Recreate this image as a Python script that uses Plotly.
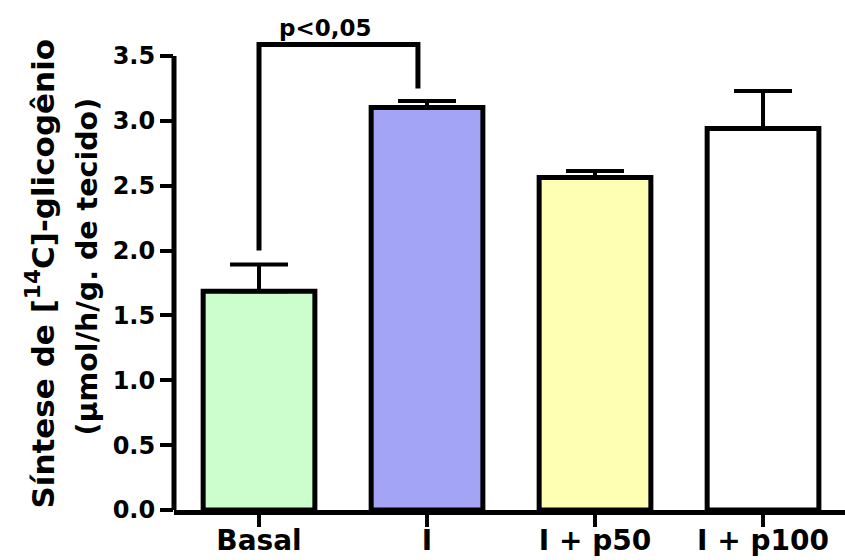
import plotly.graph_objects as go

categories = ["Basal", "I", "I + p50", "I + p100"]
means = [1.687, 3.104, 2.563, 2.942]
errors = [0.206, 0.050, 0.051, 0.288]
bracket_x = [0, 0, 0.946, 0.946]
bracket_y = [2.0, 3.59, 3.59, 3.25]
sig_label = "p<0,05"
y_ticks = [0.0, 0.5, 1.0, 1.5, 2.0, 2.5, 3.0, 3.5]

xpos = list(range(len(categories)))
fill_colors = ["#ccfdcc", "#a4a4f6", "#ffffb4", "#ffffff"]

TF = "DejaVu Sans"

fig = go.Figure()
fig.add_trace(go.Bar(
    x=xpos, y=means, width=0.665,
    marker=dict(color=fill_colors, line=dict(color="black", width=5)),
    error_y=dict(type="data", symmetric=False, array=errors,
                 arrayminus=[0] * len(errors), color="black", thickness=4, width=29),
    hoverinfo="skip", showlegend=False,
))
fig.add_trace(go.Scatter(
    x=bracket_x, y=bracket_y, mode="lines",
    line=dict(color="black", width=5), hoverinfo="skip", showlegend=False,
))

fig.add_shape(type="line", xref="paper", x0=0, x1=0, yref="y", y0=0, y1=3.5,
              line=dict(color="black", width=5), layer="above")

fig.add_annotation(x=0.39, y=3.59, xref="x", yref="y", text="<b>" + sig_label + "</b>",
                   showarrow=False, yanchor="bottom", yshift=1,
                   font=dict(family=TF, size=23, color="black"))

fig.add_annotation(x=0, xref="paper", xshift=-134, y=0.50, yref="paper",
                   text="<b>Síntese de [<sup>14</sup>C]-glicogênio</b>",
                   textangle=-90, showarrow=False, xanchor="center", yanchor="middle",
                   font=dict(family=TF, size=31, color="black"))
fig.add_annotation(x=0, xref="paper", xshift=-87, y=0.515, yref="paper",
                   text="<b>(µmol/h/g. de tecido)</b>",
                   textangle=-90, showarrow=False, xanchor="center", yanchor="middle",
                   font=dict(family=TF, size=28.5, color="black"))

fig.update_layout(
    width=845, height=560,
    margin=dict(l=174, r=0, t=37, b=50),
    paper_bgcolor="white", plot_bgcolor="white",
)
fig.update_xaxes(
    range=[-0.506, 3.488], tickvals=xpos, ticktext=["<b>%s</b>" % c for c in categories],
    showline=True, linewidth=5, linecolor="black", automargin=False,
    ticks="outside", ticklen=12, tickwidth=4, tickcolor="black",
    ticklabelstandoff=-11,
    showgrid=False, zeroline=False,
    tickfont=dict(family=TF, size=28, color="black"),
)
fig.update_yaxes(
    range=[0, 3.647], tickvals=y_ticks, ticktext=["<b>%.1f</b>" % v for v in y_ticks],
    showline=False, automargin=False, ticks="outside", ticklen=13, tickwidth=4, tickcolor="black",
    showgrid=False, zeroline=False,
    tickfont=dict(family=TF, size=24, color="black"),
)

fig.write_html("out.html", config={"displayModeBar": False},
               post_script="document.body.style.margin='0px';")
